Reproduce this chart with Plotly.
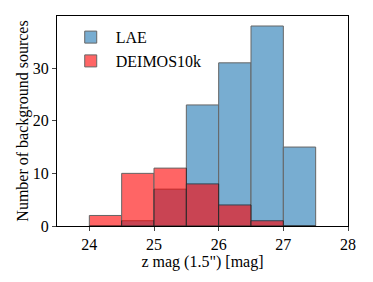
import plotly.graph_objects as go

bin_left = [24.0, 24.5, 25.0, 25.5, 26.0, 26.5, 27.0]
lae_counts = [0, 1, 7, 23, 31, 38, 15]
deimos_counts = [2, 10, 11, 8, 4, 1, 0]
bin_width = 0.5
xticks = [24, 25, 26, 27, 28]
yticks = [0, 10, 20, 30]

centers = [b + bin_width / 2 for b in bin_left]

fig = go.Figure()
fig.add_trace(go.Bar(x=centers, y=lae_counts, width=bin_width, name="LAE",
                     marker=dict(color="#1f77b4", line=dict(color="black", width=1)),
                     opacity=0.6))
fig.add_trace(go.Bar(x=centers, y=deimos_counts, width=bin_width, name="DEIMOS10k",
                     marker=dict(color="red", line=dict(color="black", width=1)),
                     opacity=0.6))

font = "Liberation Serif"
fig.update_layout(
    width=373, height=282,
    barmode="overlay",
    paper_bgcolor="white", plot_bgcolor="white",
    margin=dict(l=57, r=25, t=16, b=56),
    font=dict(family=font, size=16, color="black"),
    showlegend=True,
    legend=dict(x=0.03, y=0.98, xanchor="left", yanchor="top",
                bgcolor="rgba(0,0,0,0)", font=dict(size=16),
                traceorder="normal", itemwidth=40),
    xaxis=dict(range=[23.5, 28], tickvals=xticks, ticks="outside", ticklen=4,
               showline=True, linecolor="black", linewidth=1, mirror=True,
               showgrid=False, zeroline=False, tickfont=dict(size=16),
               title=dict(text="z mag (1.5\") [mag]", standoff=0, font=dict(size=16))),
    yaxis=dict(range=[0, 39.9], tickvals=yticks, ticks="outside", ticklen=4,
               showline=True, linecolor="black", linewidth=1, mirror=True,
               showgrid=False, zeroline=False, tickfont=dict(size=16),
               title=dict(text="Number of background sources", standoff=0, font=dict(size=16))),
)

fig.write_html("out.html", config={"displayModeBar": False},
               post_script="document.body.style.margin='0';document.body.style.overflow='hidden';")
